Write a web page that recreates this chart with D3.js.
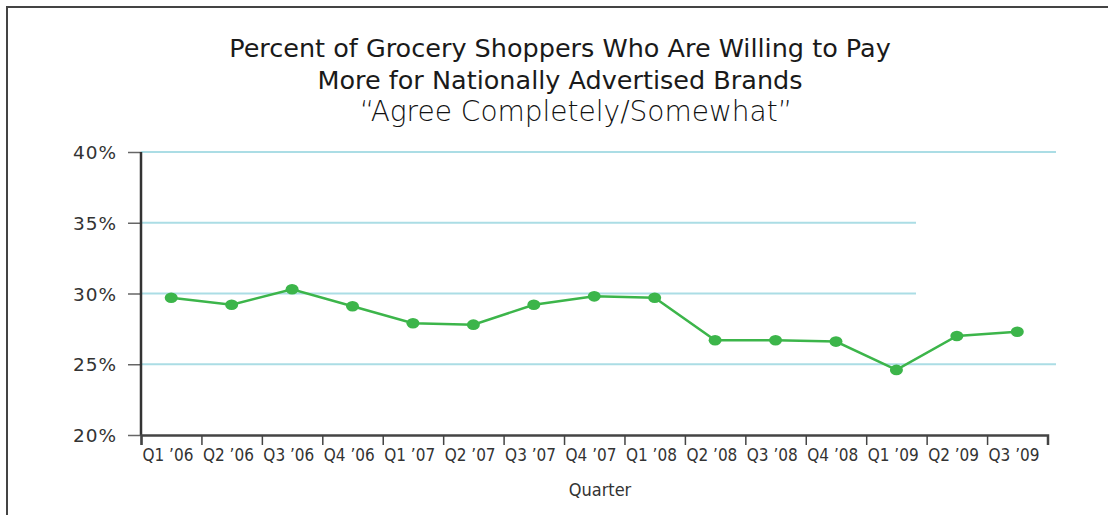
<!DOCTYPE html>
<html>
<head>
<meta charset="utf-8">
<script src="https://cdn.jsdelivr.net/npm/d3@7"></script>
<style>
  body { margin: 0; background: #fff; }
  svg { display: block; }
  .cond { font-family: "DejaVu Sans Condensed", "Liberation Sans Narrow", "DejaVu Sans", sans-serif; font-stretch: condensed; }
</style>
</head>
<body>
<div id="chart"></div>
<script>
// quarters along the x axis
const quarters = ["Q1 \u201906", "Q2 \u201906", "Q3 \u201906", "Q4 \u201906",
                  "Q1 \u201907", "Q2 \u201907", "Q3 \u201907", "Q4 \u201907",
                  "Q1 \u201908", "Q2 \u201908", "Q3 \u201908", "Q4 \u201908",
                  "Q1 \u201909", "Q2 \u201909", "Q3 \u201909"];
// percent who agree completely/somewhat
const values = [29.7, 29.2, 30.3, 29.1, 27.9, 27.8, 29.2, 29.8, 29.7, 26.7, 26.7, 26.6, 24.6, 27.0, 27.3];
const yTicks = [20, 25, 30, 35, 40];
const titleLines = ["Percent of Grocery Shoppers Who Are Willing to Pay",
                    "More for Nationally Advertised Brands"];
const subtitle = "\u201CAgree Completely/Somewhat\u201D";
const xLabel = "Quarter";

const W = 1108, H = 515;
const svg = d3.select("#chart").append("svg")
    .attr("width", W)
    .attr("height", H);

// outer frame (runs off the right and bottom edge)
svg.append("rect")
    .attr("x", 7).attr("y", 7)
    .attr("width", W + 10).attr("height", H + 10)
    .attr("fill", "none")
    .attr("stroke", "#444")
    .attr("stroke-width", 2);

const x0 = 141, x1 = 1047.5, yTop = 152, yBot = 435;

// index scale for tick positions, point sits in middle of each slot
const x = d3.scaleLinear().domain([0, quarters.length]).range([x0, x1]);
const y = d3.scaleLinear().domain([20, 40]).range([yBot, yTop]);

// gridlines - the middle two are cut short in the original
const gridEnd = {25: 1056, 30: 916, 35: 916, 40: 1056};
svg.append("g")
    .selectAll("line")
    .data(yTicks.filter(d => d > 20))
    .enter()
    .append("line")
    .attr("x1", x0)
    .attr("x2", d => gridEnd[d])
    .attr("y1", d => y(d))
    .attr("y2", d => y(d))
    .style("stroke", "#abdde5")
    .style("stroke-width", 2);

// Y axis
const yAxis = svg.append("g")
    .attr("transform", `translate(${x0},0)`)
    .call(d3.axisLeft(y).tickValues(yTicks).tickSize(13).tickFormat(d => d + "%"));
yAxis.select(".domain").remove();
yAxis.selectAll(".tick line").style("stroke", "#666").style("stroke-width", 1.5);
yAxis.selectAll("text")
    .attr("x", -24)
    .attr("dy", "0.36em")
    .style("font-family", "'DejaVu Sans', sans-serif")
    .style("font-size", "18.5px")
    .style("letter-spacing", "1px")
    .style("fill", "#333");

svg.append("line")
    .attr("x1", x0).attr("x2", x0)
    .attr("y1", yTop).attr("y2", yBot)
    .style("stroke", "#333")
    .style("stroke-width", 2.5);

// X axis
const xAxis = svg.append("g")
    .attr("transform", `translate(0,${yBot})`)
    .call(d3.axisBottom(x)
        .tickValues(d3.range(quarters.length + 1))
        .tickSize(10)
        .tickFormat(i => quarters[i] || ""));
xAxis.select(".domain")
    .style("stroke", "#444")
    .style("stroke-width", 2.5);
xAxis.selectAll(".tick line").style("stroke", "#444").style("stroke-width", 1.5);
xAxis.selectAll("text")
    .attr("class", "cond")
    .attr("text-anchor", "start")
    .attr("x", 1)
    .attr("y", 14)
    .style("font-size", "17px")
    .style("fill", "#333");

// line + points
const line = d3.line()
    .x((d, i) => x(i + 0.5))
    .y(d => y(d));

svg.append("path")
    .datum(values)
    .attr("d", line)
    .style("fill", "none")
    .style("stroke", "#3cb54a")
    .style("stroke-width", 2.5);

svg.append("g")
    .selectAll("ellipse")
    .data(values)
    .enter()
    .append("ellipse")
    .attr("cx", (d, i) => x(i + 0.5))
    .attr("cy", d => y(d))
    .attr("rx", 6.5)
    .attr("ry", 5.3)
    .style("fill", "#3cb54a");

// titles
svg.selectAll(".title")
    .data(titleLines)
    .enter()
    .append("text")
    .attr("class", "title")
    .attr("x", 560)
    .attr("y", (d, i) => 57 + i * 32)
    .attr("text-anchor", "middle")
    .style("font-family", "'DejaVu Sans', sans-serif")
    .style("font-size", "25.5px")
    .style("fill", "#1a1a1a")
    .text(d => d);

svg.append("text")
    .attr("x", 576)
    .attr("y", 121)
    .attr("text-anchor", "middle")
    .style("font-family", "'DejaVu Sans', sans-serif")
    .style("font-size", "28px")
    .style("font-weight", "300")
    .style("fill", "#111")
    .text(subtitle);

svg.append("text")
    .attr("class", "cond")
    .attr("x", 600)
    .attr("y", 496)
    .attr("text-anchor", "middle")
    .style("font-size", "18px")
    .style("fill", "#333")
    .text(xLabel);
</script>
</body>
</html>
